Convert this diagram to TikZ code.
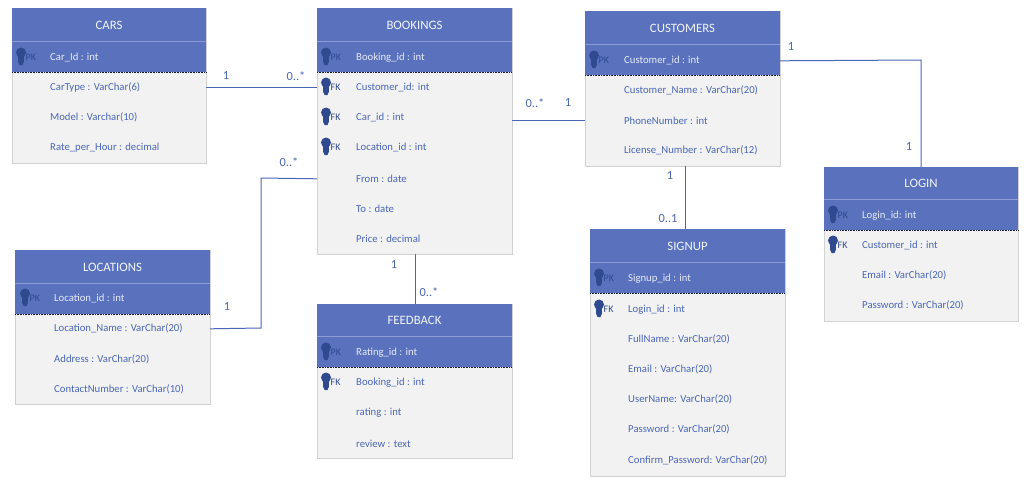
\documentclass[tikz,border=0pt]{standalone}
\usepackage{fontspec}
\setmainfont{Carlito}
\definecolor{hdr}{HTML}{5A72BE}
\definecolor{txtb}{HTML}{4A66B8}
\definecolor{keyc}{HTML}{2F4A8E}
\definecolor{bodyc}{HTML}{F2F2F2}
\definecolor{edge}{HTML}{D2D2D2}
\tikzset{
  x=1pt,y=-1pt,
  ebox/.style={draw=edge,line width=1pt,fill=bodyc,anchor=north west,inner sep=0pt,outer sep=0pt},
  ehead/.style={draw=none,fill=hdr,anchor=north west,inner sep=0pt,outer sep=0pt},
  etitle/.style={text=white!92!hdr,font=\fontsize{12.8}{14}\selectfont,inner sep=0pt,yshift=-0.5pt},
  attr/.style={text=txtb,font=\fontsize{10.7}{12}\selectfont,anchor=west,inner sep=0pt,yshift=-0.8pt},
  pkattr/.style={text=white!85!hdr,font=\fontsize{10.7}{12}\selectfont,anchor=west,inner sep=0pt,yshift=-0.8pt},
  keytag/.style={text=keyc,font=\fontsize{10}{11}\selectfont,anchor=west,inner sep=0pt},
  conn/.style={draw=txtb,line width=1pt},
  mult/.style={text=txtb,font=\fontsize{12.4}{14}\selectfont,inner sep=0pt},
}
% id, left, top, width, height, title height, key row bottom offset, title
\newcommand{\entity}[8]{%
  \node[ebox,minimum width=#4pt,minimum height=#5pt] (#1) at (#2,#3) {};
  \node[ehead,minimum width=#4pt,minimum height=#7pt] (#1head) at (#2,#3) {};
  \draw[white!30!hdr,line width=.5pt] (#2,#3+#6) -- (#2+#4,#3+#6);
  \draw[black!80!hdr,line width=.6pt,densely dotted] (#2,#3+#7) -- (#2+#4,#3+#7);
  \node[etitle] (#1title) at (#2+#4/2,#3+#6/2) {#8};
}
% x of key, y, tag
\newcommand{\keyicon}[3]{%
  \fill[keyc] (#1,#2-4.5) circle (5);
  \fill[keyc] (#1-3,#2-3) -- (#1+3,#2-3) -- (#1+2.8,#2+5) -- (#1+1.4,#2+8) -- (#1-1.4,#2+8) -- (#1-2.8,#2+5) -- cycle;
  \node[keytag] at (#1+4.5,#2) {#3};
}
\begin{document}
\begin{tikzpicture}
\useasboundingbox (0,0) rectangle (1024,483);
\fill[white] (0,0) rectangle (1024,483);

\entity{cars}{12}{8}{194}{155}{33}{64}{CARS}
\entity{bookings}{317}{8}{195}{246}{33}{64}{BOOKINGS}
\entity{customers}{585}{11}{195}{155}{33}{64}{CUSTOMERS}
\entity{login}{824}{167}{194}{154}{32}{63}{LOGIN}
\entity{signup}{590}{229}{195}{247}{33}{64}{SIGNUP}
\entity{locations}{15}{250}{195}{154}{33}{64}{LOCATIONS}
\entity{feedback}{317}{304}{195}{154}{32}{63}{FEEDBACK}

% CARS
\keyicon{21}{57}{PK}
\node[pkattr] (carid) at (50,57) {Car\_Id : int};
\node[attr] (cartype) at (50,87) {CarType : VarChar(6)};
\node[attr] (model) at (50,117) {Model : Varchar(10)};
\node[attr] (rate) at (50,147) {Rate\_per\_Hour : decimal};

% BOOKINGS
\keyicon{326}{57}{PK}
\node[pkattr] (bookid) at (356,57) {Booking\_id : int};
\keyicon{326}{87}{FK}
\node[attr] (bcust) at (356,87) {Customer\_id: int};
\keyicon{326}{117}{FK}
\node[attr] (bcar) at (356,117) {Car\_id : int};
\keyicon{326}{147}{FK}
\node[attr] (bloc) at (356,147) {Location\_id : int};
\node[attr] (bfrom) at (356,178) {From : date};
\node[attr] (bto) at (356,208) {To : date};
\node[attr] (bprice) at (356,238) {Price : decimal};

% CUSTOMERS
\keyicon{594}{60}{PK}
\node[pkattr] (custid) at (624,60) {Customer\_id : int};
\node[attr] (custname) at (624,90) {Customer\_Name : VarChar(20)};
\node[attr] (phone) at (624,120) {PhoneNumber : int};
\node[attr] (license) at (624,150) {License\_Number : VarChar(12)};

% LOGIN
\keyicon{833}{215}{PK}
\node[pkattr] (loginid) at (862,215) {Login\_id: int};
\keyicon{833}{245}{FK}
\node[attr] (lcust) at (862,245) {Customer\_id : int};
\node[attr] (lemail) at (862,275) {Email : VarChar(20)};
\node[attr] (lpass) at (862,305) {Password : VarChar(20)};

% SIGNUP
\keyicon{599}{278}{PK}
\node[pkattr] (signid) at (628,278) {Signup\_id : int};
\keyicon{599}{309}{FK}
\node[attr] (slogin) at (628,309) {Login\_id : int};
\node[attr] (sfull) at (628,339) {FullName : VarChar(20)};
\node[attr] (semail) at (628,369) {Email : VarChar(20)};
\node[attr] (suser) at (628,399) {UserName: VarChar(20)};
\node[attr] (spass) at (628,429) {Password : VarChar(20)};
\node[attr] (sconf) at (628,460) {Confirm\_Password: VarChar(20)};

% LOCATIONS
\keyicon{25}{298}{PK}
\node[pkattr] (locid) at (54,298) {Location\_id : int};
\node[attr] (locname) at (54,328) {Location\_Name : VarChar(20)};
\node[attr] (locaddr) at (54,359) {Address : VarChar(20)};
\node[attr] (loccont) at (54,389) {ContactNumber : VarChar(10)};

% FEEDBACK
\keyicon{326}{352}{PK}
\node[pkattr] (ratid) at (356,352) {Rating\_id : int};
\keyicon{326}{382}{FK}
\node[attr] (fbook) at (356,382) {Booking\_id : int};
\node[attr] (frating) at (356,412) {rating : int};
\node[attr] (freview) at (356,443) {review : text};

% connectors
\draw[conn] (cars.east |- cartype) -- (bookings.west |- cartype);
\draw[conn] (locations.east |- locname) -- (261,328) -- (261,178) -- (bookings.west |- bfrom);
\draw[conn] (bookings.east |- phone) -- (customers.west |- phone);
\draw[conn] (bookings.south -| 415,0) -- (feedback.north -| 415,0);
\draw[conn] (customers.south -| 685,0) -- (signup.north -| 685,0);
\draw[conn] (customers.east |- custid) -- (921,60) -- (login.north -| 921,0);

% multiplicities
\node[mult] (m1) at (226,76) {1};
\node[mult] (m2) at (296,76) {0..*};
\node[mult] (m3) at (289,162) {0..*};
\node[mult] (m4) at (227,307) {1};
\node[mult] (m5) at (535,103) {0..*};
\node[mult] (m6) at (568,103) {1};
\node[mult] (m7) at (394,265) {1};
\node[mult] (m8) at (429,292) {0..*};
\node[mult] (m9) at (670,176) {1};
\node[mult] (m10) at (668,219) {0..1};
\node[mult] (m11) at (791,47) {1};
\node[mult] (m12) at (909,147) {1};
\end{tikzpicture}
\end{document}
